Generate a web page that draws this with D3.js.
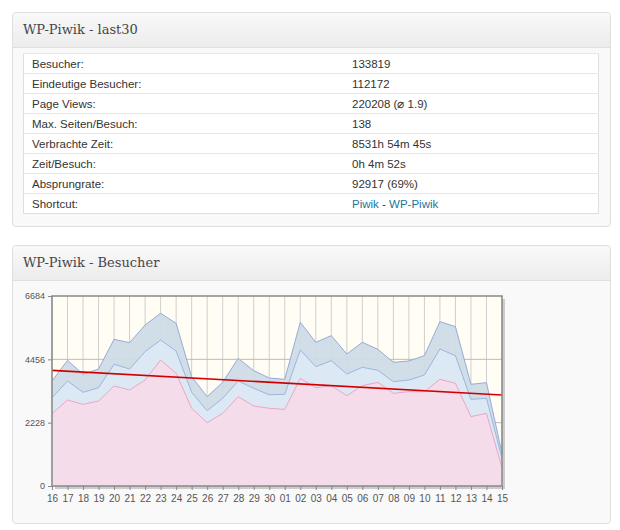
<!DOCTYPE html>
<html><head><meta charset="utf-8">
<script src="https://cdn.jsdelivr.net/npm/d3@7"></script>
<style>
body{margin:0;background:#fff;font-family:"Liberation Sans",Arial,sans-serif;}
.box{position:absolute;left:12px;width:597px;border:1px solid #dfdfdf;border-radius:4px;background:#f9f9f9;}
.hd{height:34px;line-height:34px;padding-left:10px;font-family:"DejaVu Serif",serif;font-size:13px;color:#464646;
 background:linear-gradient(#f9f9f9,#ececec);border-bottom:1px solid #dfdfdf;border-radius:4px 4px 0 0;}
table{position:absolute;left:10px;top:40px;width:576px;border-collapse:collapse;background:#fff;border:1px solid #dfdfdf;font-size:11.5px;color:#333;}
td{height:19px;padding:0 0 0 8px;border-top:1px solid #e8e8e8;}
a{color:#21759b;text-decoration:none;}
</style></head><body>
<div class="box" style="top:12px;height:213px"><div class="hd">WP-Piwik - last30</div>
<table id="t"></table></div>
<div class="box" style="top:245px;height:277px"><div class="hd">WP-Piwik - Besucher</div></div>
<svg id="c" width="620" height="530" style="position:absolute;left:0;top:0"></svg>
<script>
const rowLabels = ['Besucher:', 'Eindeutige Besucher:', 'Page Views:', 'Max. Seiten/Besuch:', 'Verbrachte Zeit:', 'Zeit/Besuch:', 'Absprungrate:', 'Shortcut:'];
const rowValues = ['133819', '112172', '220208 (\u2300 1.9)', '138', '8531h 54m 45s', '0h 4m 52s', '92917 (69%)', '<a href="#">Piwik</a> - <a href="#">WP-Piwik</a>'];

const days = ['16','17','18','19','20','21','22','23','24','25','26','27','28','29','30','01','02','03','04','05','06','07','08','09','10','11','12','13','14','15'];
const pageViews = [3694,4422,3929,4116,5161,5042,5664,6075,5723,3846,3142,3647,4492,4057,3800,3753,5758,5055,5289,4644,5055,4808,4351,4398,4585,5781,5605,3577,3635,1149];
const visits = [3107,3694,3295,3459,4281,4116,4726,5136,4749,3295,2650,3084,3694,3436,3210,3225,4785,4198,4409,3940,4175,4069,3670,3729,3905,4820,4585,3049,3084,973];
const unique = [2545,3025,2873,2990,3518,3377,3729,4433,3964,2733,2228,2557,3142,2814,2733,2697,3788,3459,3530,3178,3530,3647,3260,3318,3318,3753,3612,2439,2557,645];
const trend = [4069, 3201];
const yTicks = [0, 2228, 4456, 6684];

const t = d3.select('#t');
rowLabels.forEach((l, i) => {
  const tr = t.append('tr');
  tr.append('td').style('width', '312px').text(l);
  tr.append('td').html(rowValues[i]);
});

const svg = d3.select('#c');
const x = d3.scalePoint().domain(days).range([52, 502]);
const y = d3.scaleLinear().domain([0, 6684]).range([486, 296]);

svg.append('rect').attr('x', 55).attr('y', 299).attr('width', 450).attr('height', 190).attr('fill', '#ccc');
svg.append('rect').attr('x', 52).attr('y', 296).attr('width', 450).attr('height', 190).attr('fill', '#fffdf4');

svg.append('g').selectAll('line').data(days).join('line')
  .attr('x1', d => x(d)).attr('x2', d => x(d)).attr('y1', 296).attr('y2', 486)
  .attr('stroke', '#cfcfcf');
svg.append('g').selectAll('line').data(yTicks.slice(1, 3)).join('line')
  .attr('x1', 52).attr('x2', 502).attr('y1', d => y(d)).attr('y2', d => y(d)).attr('stroke', '#bbb');

const area = vals => d3.area().x((d, i) => x(days[i])).y0(y(0)).y1(d => y(d))(vals);
const line = vals => d3.line().x((d, i) => x(days[i])).y(d => y(d))(vals);
svg.append('path').attr('d', area(pageViews)).attr('fill', '#cfdbe6').attr('fill-opacity', 0.95);
svg.append('path').attr('d', line(pageViews)).attr('fill', 'none').attr('stroke', '#94acd9');
svg.append('path').attr('d', area(visits)).attr('fill', '#dce9f5');
svg.append('path').attr('d', line(visits)).attr('fill', 'none').attr('stroke', '#9cb6e0');
svg.append('path').attr('d', area(unique)).attr('fill', '#f5dcea');
svg.append('path').attr('d', line(unique)).attr('fill', 'none').attr('stroke', '#eca6c4');

svg.append('line').attr('x1', x(days[0])).attr('x2', x(days[days.length - 1]))
  .attr('y1', y(trend[0])).attr('y2', y(trend[1])).attr('stroke', '#d00000').attr('stroke-width', 1.6);

svg.append('rect').attr('x', 52).attr('y', 296).attr('width', 450).attr('height', 190)
  .attr('fill', 'none').attr('stroke', '#888').attr('stroke-width', 1.5);

const yAxis = svg.append('g').attr('transform', 'translate(52,0)')
  .call(d3.axisLeft(y).tickValues(yTicks).tickSize(4).tickFormat(d3.format('d')));
const xAxis = svg.append('g').attr('transform', 'translate(0,486)')
  .call(d3.axisBottom(x).tickSize(4).tickPadding(5));
[yAxis, xAxis].forEach(g => {
  g.select('.domain').remove();
  g.selectAll('line').attr('stroke', '#888');
  g.selectAll('text').attr('fill', '#555').style('font-size', '10px').style('font-family', 'Liberation Sans, Arial');
});
yAxis.selectAll('text').style('font-size', '9px');
</script></body></html>
